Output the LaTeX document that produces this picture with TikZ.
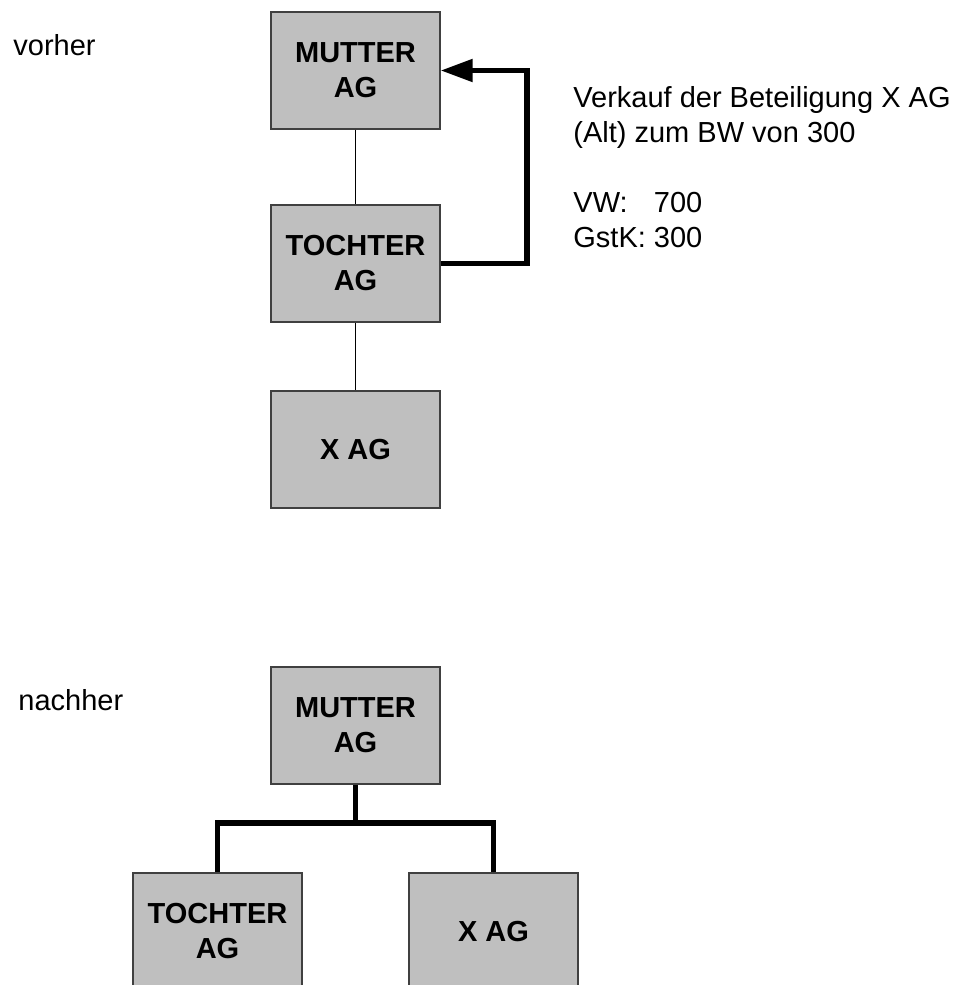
\documentclass[tikz,border=0pt]{standalone}
\usepackage{fontspec}
\setmainfont{Liberation Sans}
\usetikzlibrary{arrows.meta}

\begin{document}
\begin{tikzpicture}[x=0.5pt,y=-0.5pt,
  company/.style={draw=black!75, line width=0.7pt, fill=black!25,
    minimum width=84.5pt, minimum height=58.5pt, inner sep=0pt,
    align=center, font=\fontsize{14.5}{17.5}\selectfont\bfseries},
  thinline/.style={line width=0.6pt},
  thickline/.style={line width=2.6pt},
  label/.style={inner sep=0pt, font=\fontsize{14.5}{17.5}\selectfont}]

\useasboundingbox (0,0) rectangle (960,985);

% vorher
\node[label, anchor=base west] (vorher) at (13,55) {vorher};
\node[company] (mutterA) at (355.5,70.5) {MUTTER\\AG};
\node[company] (tochterA) at (355.5,263.5) {TOCHTER\\AG};
\node[company] (xagA) at (355.5,449.5) {X AG};

\draw[thinline] (mutterA) -- (tochterA);
\draw[thinline] (tochterA) -- (xagA);
\draw[thickline, -{Triangle[length=16pt,width=11pt]}]
  (tochterA.east) -| (527,70.5) -- (mutterA.east);

\node[label, anchor=north west, align=left] (verkauf) at (573,86)
  {Verkauf der Beteiligung X AG\\(Alt) zum BW von 300\\[17.5pt]
   \rlap{VW:}\hphantom{GstK: }700\\GstK: 300};

% nachher
\node[label, anchor=base west] (nachher) at (18,710) {nachher};
\node[company] (mutterB) at (355.5,725.5) {MUTTER\\AG};
\node[company] (tochterB) at (217.5,931.5) {TOCHTER\\AG};
\node[company] (xagB) at (493.5,931.5) {X AG};

\coordinate (split) at (355.5,823);
\draw[thickline] (mutterB) -- (split);
\draw[thickline] (split) -| (tochterB);
\draw[thickline] (split) -| (xagB);

\end{tikzpicture}
\end{document}
